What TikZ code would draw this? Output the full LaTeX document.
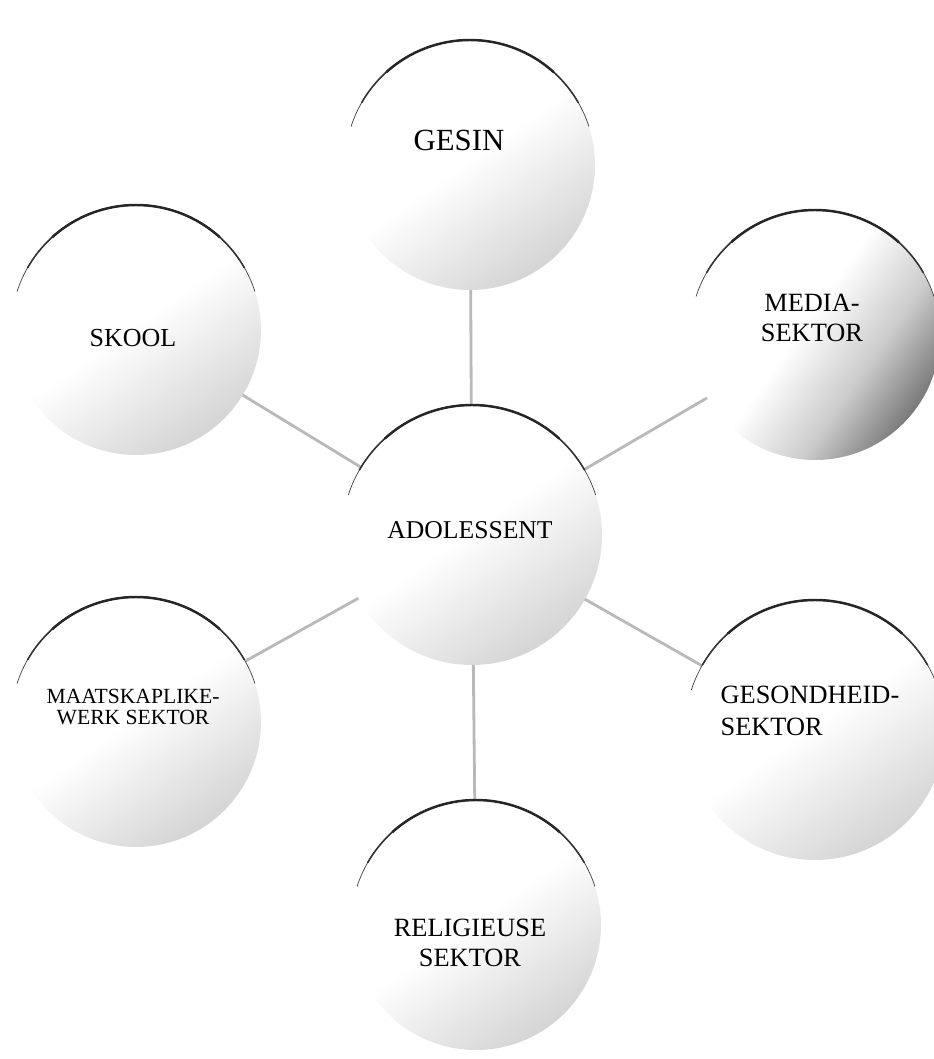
\documentclass[tikz,border=0pt]{standalone}
\usepackage{fontspec}
\setmainfont{Liberation Serif}
\usetikzlibrary{calc}

\pgfdeclarehorizontalshading{sphere}{100bp}{color(0bp)=(white); color(49bp)=(white); color(66bp)=(gray!22); color(84bp)=(gray!45); color(100bp)=(gray!50)}
\pgfdeclarehorizontalshading{darksphere}{100bp}{color(0bp)=(white); color(47bp)=(white); color(62bp)=(gray!40); color(80bp)=(black!65); color(100bp)=(black!85)}

\begin{document}
\begin{tikzpicture}[
    sector/.style={circle, minimum size=5cm, inner sep=0pt, outer sep=0pt, shading=sphere, shading angle=-55},
    edge/.style={draw=gray!55, line width=1.6pt},
    rimthin/.style={draw=black!75, line width=0.4pt, line cap=round},
    rim/.style={draw=black!80, line width=0.9pt, line cap=round},
    rimtop/.style={draw=black!85, line width=1.4pt, line cap=round},
    lbl/.style={inner sep=0pt, align=center}]

    \useasboundingbox (0,0) rectangle (18.68,21.18);

    % Circles
    \node[sector, minimum size=5.2cm] (adol) at (9.44,10.48) {};
    \node[sector] (gesin) at (9.40,17.88) {};
    \node[sector] (skool) at (2.72,14.58) {};
    \node[sector, shading=darksphere, shading angle=-35] (media) at (16.30,14.48) {};
    \node[sector] (maats) at (2.72,6.74) {};
    \node[sector, minimum size=5.2cm] (gesond) at (16.30,6.58) {};
    \node[sector] (relig) at (9.52,2.68) {};

    % Edges
    \draw[edge] (adol) -- (gesin);
    \draw[edge] (adol) -- (skool);
    \draw[edge] (adol) -- (media);
    \draw[edge] (adol) -- (maats);
    \draw[edge] (adol) -- (gesond);
    \draw[edge] (adol) -- (relig);

    % Top rims
    \foreach \n/\r in {adol/2.6, gesin/2.5, skool/2.5, media/2.5, maats/2.5, gesond/2.6, relig/2.5}{
        \draw[rimthin] (\n.162) arc[start angle=162, end angle=18, radius=\r cm];
        \draw[rim] (\n.150) arc[start angle=150, end angle=30, radius=\r cm];
        \draw[rimtop] (\n.132) arc[start angle=132, end angle=48, radius=\r cm];
    }

    % Labels
    \node[lbl, font=\fontsize{17.5}{20}\selectfont] (gesinlbl) at ($(gesin)+(-0.22,0.5)$) {GESIN};
    \node[lbl, font=\fontsize{14.8}{17}\selectfont] (skoollbl) at ($(skool)+(-0.06,-0.16)$) {SKOOL};
    \node[lbl, font=\fontsize{15}{17}\selectfont] (medialbl) at ($(media)+(-0.06,0.34)$) {MEDIA-\\SEKTOR};
    \node[lbl, font=\fontsize{14.6}{17}\selectfont] (adollbl) at ($(adol)+(-0.04,0.1)$) {ADOLESSENT};
    \node[lbl, font=\fontsize{12.3}{11.5}\selectfont] (maatslbl) at ($(maats)+(-0.06,0.3)$) {MAATSKAPLIKE-\\WERK SEKTOR};
    \node[lbl, align=left, font=\fontsize{15}{18}\selectfont] (gesondlbl) at ($(gesond)+(-0.1,0.38)$) {GESONDHEID-\\SEKTOR};
    \node[lbl, font=\fontsize{15}{17}\selectfont] (religlbl) at ($(relig)+(-0.12,-0.36)$) {RELIGIEUSE\\SEKTOR};

\end{tikzpicture}
\end{document}
